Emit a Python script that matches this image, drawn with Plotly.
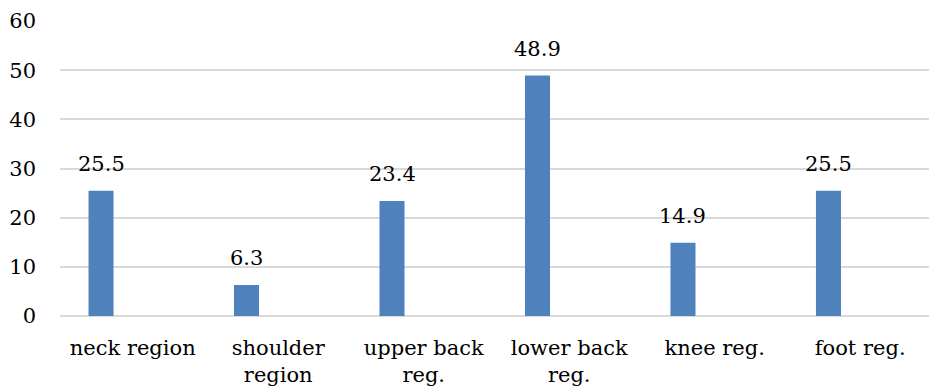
import plotly.graph_objects as go

# Body regions and share of complaints (%)
categories = ["neck region", "shoulder<br>region", "upper back<br>reg.",
              "lower back<br>reg.", "knee reg.", "foot reg."]
values = [25.5, 6.3, 23.4, 48.9, 14.9, 25.5]
y_ticks = [0, 10, 20, 30, 40, 50, 60]

FONT = "DejaVu Serif"
FONT_SIZE = 21
BAR_COLOR = "#4F81BD"
GRID = "#D9D9D9"

bar_width = 0.172
bar_offset = -0.304  # bar sits left of the category centre

fig = go.Figure(
    go.Bar(
        x=categories,
        y=values,
        width=bar_width,
        offset=bar_offset,
        marker=dict(color=BAR_COLOR, line=dict(width=0)),
        hoverinfo="x+y",
    )
)

# value labels centred above each bar
shift_px = (bar_offset + bar_width / 2) * 145.5
for c, v in zip(categories, values):
    fig.add_annotation(
        x=c, y=v, xref="x", yref="y",
        text=f"{v:.1f}", showarrow=False,
        xanchor="center", yanchor="bottom",
        xshift=shift_px, yshift=13,
        font=dict(family=FONT, size=FONT_SIZE, color="black"),
    )

fig.update_layout(
    width=929, height=392,
    margin=dict(l=60, r=0, t=21, b=76),
    paper_bgcolor="white", plot_bgcolor="white",
    showlegend=False,
    font=dict(family=FONT, size=FONT_SIZE, color="black"),
    xaxis=dict(
        type="category",
        categoryorder="array", categoryarray=categories,
        range=[-0.5, 5.473],
        showgrid=False, showline=False, zeroline=False,
        ticks="", ticklabelstandoff=17,
        tickfont=dict(family=FONT, size=FONT_SIZE, color="black"),
    ),
    yaxis=dict(
        range=[0, 60],
        tickvals=y_ticks,
        showgrid=True, gridcolor=GRID, gridwidth=1.5,
        zeroline=True, zerolinecolor=GRID, zerolinewidth=2,
        showline=False, ticks="", ticklabelstandoff=23,
        tickfont=dict(family=FONT, size=FONT_SIZE, color="black"),
    ),
)

fig.write_html("out.html")
